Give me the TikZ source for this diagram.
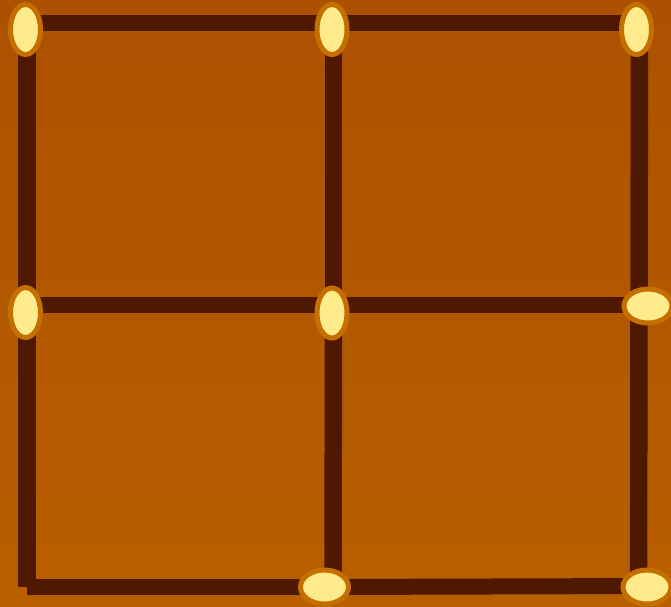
\documentclass[tikz,border=0pt]{standalone}
\usetikzlibrary{shapes.geometric}
\definecolor{bgtop}{HTML}{AC5100}
\definecolor{bgbot}{HTML}{B85F00}
\definecolor{stick}{HTML}{4E1900}
\definecolor{headfill}{HTML}{FFEA8C}
\definecolor{headrim}{HTML}{C46F00}
\tikzset{
  hstick/.style={draw=stick, line width=16pt, line cap=butt},
  vstick/.style={draw=stick, line width=17.5pt, line cap=butt},
  vhead/.style={ellipse, draw=headrim, fill=headfill, line width=5pt, inner sep=0pt, minimum width=30pt, minimum height=50pt},
  hhead/.style={ellipse, draw=headrim, fill=headfill, line width=5pt, inner sep=0pt, minimum width=48pt, minimum height=34pt}
}
\begin{document}
\begin{tikzpicture}[x=1pt, y=-1pt]
\clip (0,0) rectangle (671,606);
\shade[top color=bgtop, bottom color=bgbot] (0,0) rectangle (671,606);
% stick end points
\coordinate (t0) at (26,22.5);
\coordinate (t1) at (332,22.5);
\coordinate (t2) at (637,22.5);
\coordinate (m0) at (26,305);
\coordinate (m1) at (332,305);
\coordinate (m2) at (648,305);
\coordinate (b0) at (27,587);
\coordinate (b1) at (325,587);
\coordinate (b2) at (647,586);
\coordinate (l0) at (27,30);
\coordinate (l1) at (27,312);
\coordinate (l2) at (27,587);
\coordinate (c0) at (333.5,30);
\coordinate (c1) at (333.5,313);
\coordinate (c2) at (333,587);
\coordinate (r0) at (639.5,30);
\coordinate (r1) at (639,306);
\coordinate (r2) at (638.5,587);
% sticks
\draw[hstick] (t0) -- (t1);
\draw[hstick] (t1) -- (t2);
\draw[hstick] (m0) -- (m1);
\draw[hstick] (m1) -- (m2);
\draw[hstick] (b0) -- (b1);
\draw[hstick] (b1) -- (b2);
\draw[vstick] (l0) -- (l1);
\draw[vstick] (l1) -- (l2);
\draw[vstick] (c0) -- (c1);
\draw[vstick] (c1) -- (c2);
\draw[vstick] (r0) -- (r1);
\draw[vstick] (r1) -- (r2);
% heads
\node[vhead] (h1) at (25.5,29.5) {};
\node[vhead] (h2) at (332,29.5) {};
\node[vhead] (h3) at (636.5,29.5) {};
\node[vhead] (h4) at (25.5,312.5) {};
\node[vhead] (h5) at (332,313) {};
\node[hhead] (h6) at (648,306) {};
\node[hhead] (h7) at (324.5,587) {};
\node[hhead] (h8) at (647,587) {};
\end{tikzpicture}
\end{document}
